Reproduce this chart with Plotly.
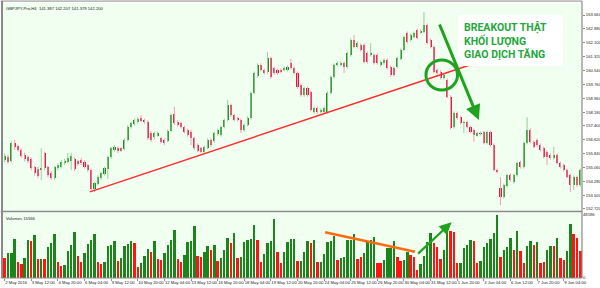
import plotly.graph_objects as go

# ---------------- data ----------------
opens = [155.48,155.67,155.44,156.42,156.25,156.05,155.79,155.67,155.52,155.07,
         154.99,154.92,155.86,155.07,154.73,154.45,155.01,155.10,155.30,155.39,
         155.44,155.52,155.41,155.48,155.39,155.18,154.92,153.83,154.13,154.45,
         154.69,154.99,155.63,156.05,156.16,156.14,156.12,156.61,157.33,157.51,
         157.64,157.83,157.74,157.64,157.02,156.80,156.89,156.70,156.61,156.57,
         157.13,158.08,157.64,157.55,157.33,157.17,157.08,156.70,156.33,156.14,
         155.93,156.16,156.61,156.55,156.95,156.89,157.34,157.74,158.58,158.02,
         157.85,157.74,157.17,157.46,157.85,159.26,160.20,160.84,160.56,160.45,
         161.23,160.67,160.56,160.56,160.56,160.56,160.95,160.67,160.39,159.71,
         159.15,159.54,159.32,158.19,158.41,158.19,158.19,158.19,159.26,160.16,
         160.84,160.84,160.95,160.73,161.40,162.25,161.86,161.97,161.97,161.52,
         161.40,161.40,161.40,160.84,160.95,161.12,160.73,160.67,160.73,161.18,
         161.69,162.64,162.25,162.42,162.81,162.70,162.70,163.10,162.25,161.86,
         160.56,160.45,160.11,159.99,159.04,157.34,158.13,157.90,157.57,157.62,
         157.34,157.17,156.89,156.95,157.06,156.44,157.06,156.33,154.92,153.90,
         153.39,154.01,154.64,154.24,154.64,155.37,155.09,156.44,157.17,156.50,
         156.61,156.33,156.16,155.93,155.76,155.59,155.76,155.31,155.20,154.92,
         154.64,154.07,154.52,154.07]
highs = [155.85,155.80,156.55,156.61,156.35,156.15,155.90,155.75,155.62,155.15,
         155.10,156.14,155.95,155.15,154.85,155.15,155.30,155.48,155.55,155.88,
         155.89,155.62,155.50,155.59,155.48,155.28,155.00,154.25,154.62,154.82,
         155.10,155.75,156.22,156.33,156.25,156.22,156.70,157.45,157.65,157.82,
         157.90,158.02,157.82,157.72,157.12,157.08,157.08,156.80,156.70,157.22,
         158.10,158.49,157.72,157.64,157.42,157.26,157.17,156.80,156.42,156.22,
         156.30,156.70,156.70,157.08,157.26,157.42,157.82,158.87,158.66,158.10,
         157.93,157.82,157.55,157.94,159.35,160.48,160.93,160.93,160.64,161.57,
         161.31,160.76,160.64,160.64,160.76,160.82,161.18,160.76,160.48,159.80,
         159.62,159.62,159.40,158.50,158.50,158.40,158.50,159.35,160.25,160.93,
         161.04,161.04,161.04,161.60,162.34,162.53,162.17,162.06,162.06,161.60,
         162.08,161.49,161.49,161.10,161.21,161.21,160.82,160.76,161.31,161.77,
         162.50,162.73,162.62,162.73,162.90,162.85,163.83,163.18,162.34,161.95,
         160.64,160.54,160.36,160.08,159.12,158.22,158.22,157.98,157.70,157.70,
         157.42,157.26,157.08,157.08,157.14,157.14,157.14,156.42,155.00,154.52,
         154.15,154.72,154.72,154.72,155.40,155.45,156.52,157.90,157.26,156.58,
         156.70,156.42,156.24,156.02,155.85,156.22,155.85,155.40,155.28,155.00,
         154.72,154.60,154.60,155.00]
lows = [155.35,155.25,155.35,156.05,155.95,155.60,155.40,155.30,154.90,154.60,
        154.45,154.35,154.90,154.50,154.35,154.35,154.90,155.00,155.20,155.30,
        154.92,154.85,155.15,155.20,155.00,154.80,153.75,153.68,154.05,154.35,
        154.60,154.41,155.55,155.95,155.88,155.95,156.02,156.52,157.25,157.42,
        157.55,157.62,157.52,156.60,156.50,156.65,156.80,156.40,156.32,156.48,
        157.05,157.45,157.36,157.26,156.98,156.80,156.33,156.05,155.92,155.85,
        155.82,156.08,156.24,156.45,156.86,156.80,157.26,157.66,157.92,157.66,
        157.65,157.00,157.08,157.38,157.76,159.18,160.12,160.48,160.30,160.36,
        160.06,160.30,160.28,160.36,160.48,160.48,160.58,160.30,159.50,159.05,
        159.05,159.05,158.22,158.10,158.10,158.10,158.08,158.10,159.18,160.08,
        160.76,160.76,160.39,160.64,161.31,161.77,161.78,161.60,160.92,160.92,
        161.31,160.86,160.86,160.76,160.86,160.58,160.18,160.18,160.64,161.10,
        161.60,162.05,162.16,162.34,162.28,162.62,162.62,162.00,161.77,160.36,
        160.30,160.02,160.02,158.96,157.20,157.26,157.76,157.48,157.00,157.26,
        156.98,156.50,156.80,156.88,156.36,156.36,156.24,154.84,154.72,152.94,
        153.30,153.92,154.26,154.15,154.55,155.00,155.00,156.36,156.42,156.14,
        156.24,155.96,155.56,155.20,155.50,155.50,155.22,155.00,154.84,154.44,
        153.68,153.80,153.95,153.98]
closes = [155.71,155.38,156.42,156.20,156.05,155.71,155.52,155.44,155.01,154.73,
          154.58,155.03,155.01,154.64,154.45,155.07,155.20,155.39,155.44,155.58,
          155.71,154.96,155.26,155.30,155.10,154.92,153.83,154.17,154.54,154.73,
          155.01,155.67,156.14,156.23,155.97,156.03,156.61,157.36,157.55,157.74,
          157.81,157.70,157.62,156.70,156.61,156.99,156.99,156.51,156.42,157.13,
          158.02,157.55,157.46,157.36,157.08,156.89,156.70,156.14,156.01,155.95,
          156.22,156.61,156.33,157.00,157.17,157.34,157.74,158.58,158.02,157.74,
          157.74,157.17,157.46,157.85,159.26,160.39,160.84,160.56,160.39,161.23,
          160.16,160.39,160.39,160.45,160.67,160.73,160.67,160.39,159.60,159.15,
          159.54,159.15,158.30,158.41,158.19,158.30,158.41,159.26,160.16,160.84,
          160.95,160.95,160.73,161.52,162.25,161.86,162.08,161.69,161.01,161.01,
          161.52,160.95,160.95,161.01,161.12,160.67,160.28,160.28,161.23,161.69,
          162.42,162.14,162.53,162.64,162.36,162.76,163.10,162.08,161.86,160.45,
          160.39,160.11,160.28,159.04,157.29,158.13,157.85,157.57,157.62,157.34,
          157.06,156.89,157.00,157.00,156.44,157.06,156.33,154.92,154.81,153.39,
          154.07,154.64,154.35,154.64,155.31,155.09,156.44,157.17,156.50,156.22,
          156.33,156.05,155.65,155.65,155.59,155.76,155.31,155.09,154.92,154.52,
          154.07,154.52,154.07,154.92]
volumes = [15045,18870,19380,29580,12495,10455,15555,29070,28050,32895,
           14280,14790,14790,23970,26520,33660,12495,9180,9945,20910,
           25245,34935,17085,12495,18870,25755,29070,33660,12240,10455,
           12240,24480,24990,28050,13260,15555,24735,26265,28560,26520,
           8160,11220,16830,22440,20145,28560,14790,13770,18870,24990,
           29070,36975,14280,12495,17595,27795,28560,39780,16830,15810,
           19890,24225,21420,25245,13260,15555,21420,30345,27030,34425,
           15555,16320,27540,29070,29835,40545,28815,12240,18105,27030,
           28305,44880,20145,11730,19890,27795,29835,30090,13260,13260,
           19635,28560,27030,29070,11985,12240,18360,27795,28560,32385,
           13770,15555,16065,29070,29325,33405,14790,15810,18870,28560,
           28815,31620,11730,11730,13770,22695,22695,28305,15810,13005,
           13770,20145,17595,16065,6375,10455,16830,27795,34170,26520,
           23970,14280,21420,39270,36210,35190,11220,11220,22695,25500,
           29070,28560,11220,13260,23460,26520,29580,34170,48195,16320,
           21420,23970,30345,21420,36210,20910,11220,24735,28560,25245,
           27540,11220,12495,21420,24480,24480,30855,15045,13770,20910,
           41055,33405,30855,20910]
volume_dirs = ("RGGGRRGGRG" "RGRGGGRRGG" "GGRRGGGGRR" "GGGGRGGGGR" "RGGGRGRRGG"
               "GGRRGGGGRR" "GGRGRGGGRG" "RGGGGGRRGG" "GGRRGGGGRG" "GGRGRGGGGG"
               "RGGGGGRRGG" "GGRRGGGGRR" "GGRRRGGGGR" "RRGGRRRGGG" "GRRGGGGGGR"
               "GGGRGRRGGR" "GRRGGRGRRG" "GRRR")

date_labels = ["2 May 2016", "3 May 12:00", "4 May 20:00", "6 May 04:00", "9 May 12:00",
               "10 May 20:00", "12 May 04:00", "13 May 12:00", "16 May 20:00", "18 May 04:00",
               "19 May 12:00", "20 May 20:00", "24 May 04:00", "25 May 12:00", "26 May 20:00",
               "30 May 04:00", "31 May 12:00", "1 Jun 20:00", "3 Jun 04:00", "6 Jun 12:00",
               "7 Jun 20:00", "9 Jun 04:00"]
date_tick_idx = [0, 8, 16, 24, 32, 40, 48, 56, 64, 72, 80, 88, 96, 104, 112, 120,
                 128, 136, 144, 152, 160, 168]
price_labels = ["163.660", "162.880", "162.100", "161.320", "160.540", "159.760", "158.960",
                "158.180", "157.400", "156.620", "155.840", "155.060", "154.280", "153.500",
                "152.720"]
price_ticks = [float(s) for s in price_labels]
vol_ticks = [0, 48186]
vol_labels = ["0", "48186"]

# drawn annotations (data coordinates)
trend_x = [25.6, 139.8]
trend_y = [153.68, 160.84]
vol_trend_x = [96.3, 123.3]
vol_trend_y = [34955, 20117]
vol_arrow_tail = (123.8, 17593)
vol_arrow_tip = (134.3, 42605)
main_arrow_tail = (130.5, 163.21)
main_arrow_tip = (142.5, 157.74)
circle_box = (126.6, 136.1, 159.43, 161.12)
textbox = (136.2, 167.8, 160.78, 163.66)
text_pos = (137.3, 162.19)
header = "GBPJPY-Pro,H4  141.387 142.207 141.379 142.200"
vol_title = "Volumes 15566"

# ---------------- figure ----------------
N = len(opens)
idx = list(range(N))
up = [i for i in idx if closes[i] >= opens[i]]
dn = [i for i in idx if closes[i] < opens[i]]

def wick_xy(ids):
    xs, ys = [], []
    for i in ids:
        xs += [i, i, None]
        ys += [lows[i], highs[i], None]
    return xs, ys

fig = go.Figure()
for ids, wc in ((up, "#9ccf9c"), (dn, "#eea0b2")):
    wx, wy = wick_xy(ids)
    fig.add_trace(go.Scatter(x=wx, y=wy, mode="lines", line=dict(color=wc, width=1),
                             hoverinfo="skip", showlegend=False, yaxis="y"))
for ids, bc in ((up, "#1c8c1c"), (dn, "#e0163e")):
    fig.add_trace(go.Bar(x=ids, y=[max(abs(closes[i] - opens[i]), 0.03) for i in ids],
                         base=[min(opens[i], closes[i]) for i in ids], width=0.62,
                         marker=dict(color=bc, line=dict(width=0)), showlegend=False,
                         yaxis="y"))

fig.add_trace(go.Bar(x=idx, y=volumes, width=0.72,
                     marker=dict(color=["#1b841b" if d == "G" else "#ff1414" for d in volume_dirs],
                                 line=dict(width=0)),
                     showlegend=False, yaxis="y2"))

fig.add_trace(go.Scatter(x=trend_x, y=trend_y, mode="lines", line=dict(color="#ff2b2b", width=1.4),
                         showlegend=False, yaxis="y"))
fig.add_trace(go.Scatter(x=vol_trend_x, y=vol_trend_y, mode="lines",
                         line=dict(color="#ff6a10", width=2.6), showlegend=False, yaxis="y2"))

GREEN = "#1fa31f"
fig.add_annotation(x=vol_arrow_tip[0], y=vol_arrow_tip[1], ax=vol_arrow_tail[0], ay=vol_arrow_tail[1],
                   xref="x", yref="y2", axref="x", ayref="y2", showarrow=True, arrowhead=2,
                   arrowwidth=2.2, arrowsize=1.1, arrowcolor=GREEN, text="")
fig.add_annotation(x=main_arrow_tip[0], y=main_arrow_tip[1], ax=main_arrow_tail[0], ay=main_arrow_tail[1],
                   xref="x", yref="y", axref="x", ayref="y", showarrow=True, arrowhead=2,
                   arrowwidth=3, arrowsize=1.0, arrowcolor=GREEN, text="")

fig.add_shape(type="circle", xref="x", yref="y", x0=circle_box[0], x1=circle_box[1],
              y0=circle_box[2], y1=circle_box[3], line=dict(color=GREEN, width=3))
fig.add_shape(type="rect", xref="x", yref="y", x0=textbox[0], x1=textbox[1], y0=textbox[2],
              y1=textbox[3], fillcolor="white", line=dict(width=0), layer="above")
fig.add_annotation(x=text_pos[0], y=text_pos[1], xref="x", yref="y", xanchor="left", yanchor="middle",
                   align="left", showarrow=False,
                   text="<b>BREAKOUT THẬT<br>KHỐI LƯỢNG<br>GIAO DỊCH TĂNG</b>",
                   font=dict(family="Roboto, Liberation Sans", size=10.5, color="#22a83a"))

# frame lines (paper coords)
GRAY = "#8a8a8a"
for (x0, y0, x1, y1, w) in [(-0.0017, 0.0, -0.0017, 1.007, 2), (-0.004, 1.007, 1.0, 1.007, 1),
                            (1.0, 0.0, 1.0, 1.007, 1.2), (-0.004, 0.2418, 1.0, 0.2418, 1.6),
                            (-0.004, 0.0, 1.0, 0.0, 1)]:
    fig.add_shape(type="line", xref="paper", yref="paper", x0=x0, y0=y0, x1=x1, y1=y1,
                  line=dict(color=GRAY, width=w), layer="above")

small = dict(family="Liberation Sans, Arial", size=4.2, color="#222222")
fig.add_annotation(x=0.0, y=0.995, xref="paper", yref="paper", xanchor="left", yanchor="top",
                   text=header, showarrow=False, font=small, xshift=1)
fig.add_annotation(x=0.0, y=1.0, xref="paper", yref="y2 domain", xanchor="left", yanchor="top",
                   text=vol_title, showarrow=False, font=small, xshift=1, yshift=-1)

fig.update_layout(
    width=600, height=288, margin=dict(l=3, r=18, t=3, b=10, autoexpand=False),
    paper_bgcolor="white", plot_bgcolor="#f0fff0", barmode="overlay", bargap=0,
    xaxis=dict(range=[-0.5, N - 0.5], anchor="y2", tickvals=date_tick_idx, ticktext=date_labels,
               ticks="outside", ticklen=2, tickcolor=GRAY, ticklabelposition="outside right",
               tickangle=0, automargin=False,
               tickfont=small, showgrid=False, zeroline=False, showline=False, fixedrange=True),
    yaxis=dict(domain=[0.2436, 1], range=[152.605, 164.337], side="right", anchor="x",
               tickvals=price_ticks, ticktext=price_labels, ticks="outside", ticklen=2,
               automargin=False,
               tickcolor=GRAY, tickfont=small, showgrid=False, zeroline=False, showline=False),
    yaxis2=dict(domain=[0, 0.2364], range=[0, 49716], side="right", anchor="x",
                tickvals=vol_ticks, ticktext=vol_labels, ticks="", tickfont=small,
                automargin=False,
                showgrid=False, zeroline=False, showline=False),
)

fig.write_html("out.html")
